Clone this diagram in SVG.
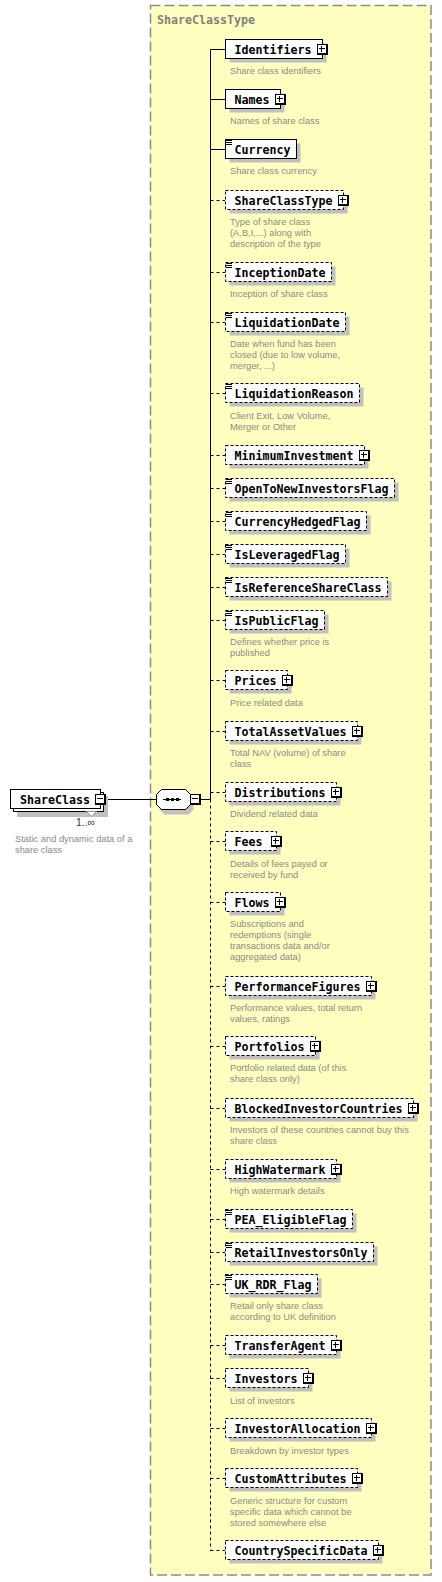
<svg xmlns="http://www.w3.org/2000/svg" xmlns:xlink="http://www.w3.org/1999/xlink" width="442" height="1582" viewBox="0 0 442 1582">
<style>
.bg{fill:#ffffc0;stroke:#8c8c8c;stroke-width:1.5;stroke-dasharray:10,4}
.ttl{font-family:"DejaVu Sans Mono",monospace;font-weight:bold;font-size:11.63px;fill:#808080}
.box{fill:#fff;stroke:#000;stroke-width:1}
.opt{stroke-dasharray:3,2}
.sh{fill:#c0c0c0}
.nm{font-family:"DejaVu Sans Mono",monospace;font-weight:bold;font-size:11.63px;fill:#000}
.ds{font-family:"Liberation Sans",Arial,sans-serif;font-size:9.3px;fill:#8a8a8a}
.ln{stroke:#000;stroke-width:1;fill:none}
.dl{stroke-dasharray:3,3}
.occ{font-family:"Liberation Sans",Arial,sans-serif;font-size:10.4px;fill:#303050}
</style>
<defs>
<g id="plus"><rect x="0" y="0" width="11" height="11" fill="#000"/><rect x="1" y="1" width="8" height="8" fill="#fff"/><path d="M2 4.5H8M4.5 2V8" stroke="#000" stroke-width="1"/></g>
<g id="minus"><rect x="0" y="0" width="11" height="11" fill="#000"/><rect x="1" y="1" width="8" height="8" fill="#fff"/><path d="M2 4.5H8" stroke="#000" stroke-width="1"/></g>
<path id="ic" d="M1 1.5h6M1 3.5h6M1 5.5h6" stroke="#000" stroke-width="1" fill="none"/>
</defs>
<rect class="bg" x="150.5" y="5.5" width="280.5" height="1569.5"/>
<text class="ttl" x="157" y="24">ShareClassType</text>

<g id="connectors">
<path class="ln" d="M106 799.5H156M201 799.5H210.5"/>
<path class="ln" d="M210.5 49.5V799.5"/>
<path class="ln dl" d="M210.5 799.5V1550.5"/>
<path class="ln" d="M210.5 49.5H225M210.5 99.5H225M210.5 149.5H225"/>
<path class="ln dl" d="M210.5 200.5H225M210.5 272.5H225M210.5 322.5H225M210.5 393.5H225M210.5 455.5H225M210.5 488.5H225M210.5 521.5H225M210.5 554.5H225M210.5 587.5H225M210.5 620.5H225M210.5 680.5H225M210.5 731.5H225M210.5 792.5H225M210.5 841.5H225M210.5 902.5H225M210.5 986.5H225M210.5 1046.5H225M210.5 1108.5H225M210.5 1169.5H225M210.5 1219.5H225M210.5 1252.5H225M210.5 1284.5H225M210.5 1345.5H225M210.5 1378.5H225M210.5 1428.5H225M210.5 1478.5H225M210.5 1550.5H225"/>
</g>

<g id="ShareClass">
<rect class="sh" x="17" y="796" width="91" height="21"/>
<rect class="box" x="13.5" y="792.5" width="90" height="19"/>
<rect class="box" x="10.5" y="789.5" width="90" height="19"/>
<polygon points="86.5,811.5 96.5,811.5 91.5,816.5" fill="#fff" stroke="#909090" stroke-width="1"/>
<text class="nm" x="20" y="803.5">ShareClass</text>
<use href="#minus" x="95" y="794"/>
<text class="occ" x="76" y="826">1..∞</text>
<text class="ds" x="15" y="841.5">Static and dynamic data of a</text>
<text class="ds" x="15" y="852.5">share class</text>
</g>

<g id="sequence">
<polygon class="sh" points="159.5,798.5 164.5,793.5 188.5,793.5 193.5,798.5 193.5,809.5 188.5,814.5 164.5,814.5 159.5,809.5"/>
<polygon class="box" points="156.5,794.5 161.5,789.5 185.5,789.5 190.5,794.5 190.5,804.5 185.5,809.5 161.5,809.5 156.5,804.5"/>
<path class="ln" d="M163 799.5H181"/>
<rect x="166" y="798" width="3" height="3" fill="#000"/>
<rect x="171" y="798" width="3" height="3" fill="#000"/>
<rect x="176" y="798" width="3" height="3" fill="#000"/>
<use href="#minus" x="190" y="794"/>
</g>

<g id="Identifiers"><rect class="sh" x="229.5" y="43.5" width="97" height="19"/><rect class="box" x="225.5" y="39.5" width="97" height="19"/><text class="nm" x="234.5" y="53.5">Identifiers</text><use href="#plus" x="317" y="44"/><text class="ds" x="230" y="73.5">Share class identifiers</text></g>
<g id="Names"><rect class="sh" x="229.5" y="93.5" width="55" height="19"/><rect class="box" x="225.5" y="89.5" width="55" height="19"/><text class="nm" x="234.5" y="103.5">Names</text><use href="#plus" x="275" y="94"/><text class="ds" x="230" y="123.5">Names of share class</text></g>
<g id="Currency"><rect class="sh" x="229.5" y="143.5" width="71" height="19"/><rect class="box" x="225.5" y="139.5" width="71" height="19"/><use href="#ic" x="225" y="139"/><text class="nm" x="234.5" y="153.5">Currency</text><text class="ds" x="230" y="173.5">Share class currency</text></g>
<g id="ShareClassType"><rect class="sh" x="229.5" y="194.5" width="118" height="19"/><rect class="box opt" x="225.5" y="190.5" width="118" height="19"/><text class="nm" x="234.5" y="204.5">ShareClassType</text><use href="#plus" x="338" y="195"/><text class="ds" x="230" y="224.5">Type of share class</text><text class="ds" x="230" y="235.5">(A,B,I,...) along with</text><text class="ds" x="230" y="246.5">description of the type</text></g>
<g id="InceptionDate"><rect class="sh" x="229.5" y="266.5" width="106" height="19"/><rect class="box opt" x="225.5" y="262.5" width="106" height="19"/><use href="#ic" x="225" y="262"/><text class="nm" x="234.5" y="276.5">InceptionDate</text><text class="ds" x="230" y="296.5">Inception of share class</text></g>
<g id="LiquidationDate"><rect class="sh" x="229.5" y="316.5" width="120" height="19"/><rect class="box opt" x="225.5" y="312.5" width="120" height="19"/><use href="#ic" x="225" y="312"/><text class="nm" x="234.5" y="326.5">LiquidationDate</text><text class="ds" x="230" y="346.5">Date when fund has been</text><text class="ds" x="230" y="357.5">closed (due to low volume,</text><text class="ds" x="230" y="368.5">merger, ...)</text></g>
<g id="LiquidationReason"><rect class="sh" x="229.5" y="387.5" width="134" height="19"/><rect class="box opt" x="225.5" y="383.5" width="134" height="19"/><use href="#ic" x="225" y="383"/><text class="nm" x="234.5" y="397.5">LiquidationReason</text><text class="ds" x="230" y="418.5">Client Exit, Low Volume,</text><text class="ds" x="230" y="429.5">Merger or Other</text></g>
<g id="MinimumInvestment"><rect class="sh" x="229.5" y="449.5" width="139" height="19"/><rect class="box opt" x="225.5" y="445.5" width="139" height="19"/><text class="nm" x="234.5" y="459.5">MinimumInvestment</text><use href="#plus" x="359" y="450"/></g>
<g id="OpenToNewInvestorsFlag"><rect class="sh" x="229.5" y="482.5" width="169" height="19"/><rect class="box opt" x="225.5" y="478.5" width="169" height="19"/><use href="#ic" x="225" y="478"/><text class="nm" x="234.5" y="492.5">OpenToNewInvestorsFlag</text></g>
<g id="CurrencyHedgedFlag"><rect class="sh" x="229.5" y="515.5" width="141" height="19"/><rect class="box opt" x="225.5" y="511.5" width="141" height="19"/><use href="#ic" x="225" y="511"/><text class="nm" x="234.5" y="525.5">CurrencyHedgedFlag</text></g>
<g id="IsLeveragedFlag"><rect class="sh" x="229.5" y="548.5" width="120" height="19"/><rect class="box opt" x="225.5" y="544.5" width="120" height="19"/><use href="#ic" x="225" y="544"/><text class="nm" x="234.5" y="558.5">IsLeveragedFlag</text></g>
<g id="IsReferenceShareClass"><rect class="sh" x="229.5" y="581.5" width="162" height="19"/><rect class="box opt" x="225.5" y="577.5" width="162" height="19"/><use href="#ic" x="225" y="577"/><text class="nm" x="234.5" y="591.5">IsReferenceShareClass</text></g>
<g id="IsPublicFlag"><rect class="sh" x="229.5" y="614.5" width="99" height="19"/><rect class="box opt" x="225.5" y="610.5" width="99" height="19"/><use href="#ic" x="225" y="610"/><text class="nm" x="234.5" y="624.5">IsPublicFlag</text><text class="ds" x="230" y="644.5">Defines whether price is</text><text class="ds" x="230" y="655.5">published</text></g>
<g id="Prices"><rect class="sh" x="229.5" y="674.5" width="62" height="19"/><rect class="box opt" x="225.5" y="670.5" width="62" height="19"/><text class="nm" x="234.5" y="684.5">Prices</text><use href="#plus" x="282" y="675"/><text class="ds" x="230" y="705.5">Price related data</text></g>
<g id="TotalAssetValues"><rect class="sh" x="229.5" y="725.5" width="132" height="19"/><rect class="box opt" x="225.5" y="721.5" width="132" height="19"/><text class="nm" x="234.5" y="735.5">TotalAssetValues</text><use href="#plus" x="352" y="726"/><text class="ds" x="230" y="755.5">Total NAV (volume) of share</text><text class="ds" x="230" y="766.5">class</text></g>
<g id="Distributions"><rect class="sh" x="229.5" y="786.5" width="111" height="19"/><rect class="box opt" x="225.5" y="782.5" width="111" height="19"/><text class="nm" x="234.5" y="796.5">Distributions</text><use href="#plus" x="331" y="787"/><text class="ds" x="230" y="816.5">Dividend related data</text></g>
<g id="Fees"><rect class="sh" x="229.5" y="835.5" width="51" height="19"/><rect class="box opt" x="225.5" y="831.5" width="51" height="19"/><text class="nm" x="234.5" y="845.5">Fees</text><use href="#plus" x="271" y="836"/><text class="ds" x="230" y="866.5">Details of fees payed or</text><text class="ds" x="230" y="877.5">received by fund</text></g>
<g id="Flows"><rect class="sh" x="229.5" y="896.5" width="55" height="19"/><rect class="box opt" x="225.5" y="892.5" width="55" height="19"/><text class="nm" x="234.5" y="906.5">Flows</text><use href="#plus" x="275" y="897"/><text class="ds" x="230" y="926.5">Subscriptions and</text><text class="ds" x="230" y="937.5">redemptions (single</text><text class="ds" x="230" y="948.5">transactions data and/or</text><text class="ds" x="230" y="959.5">aggregated data)</text></g>
<g id="PerformanceFigures"><rect class="sh" x="229.5" y="980.5" width="146" height="19"/><rect class="box opt" x="225.5" y="976.5" width="146" height="19"/><text class="nm" x="234.5" y="990.5">PerformanceFigures</text><use href="#plus" x="366" y="981"/><text class="ds" x="230" y="1010.5">Performance values, total return</text><text class="ds" x="230" y="1021.5">values, ratings</text></g>
<g id="Portfolios"><rect class="sh" x="229.5" y="1040.5" width="90" height="19"/><rect class="box opt" x="225.5" y="1036.5" width="90" height="19"/><text class="nm" x="234.5" y="1050.5">Portfolios</text><use href="#plus" x="310" y="1041"/><text class="ds" x="230" y="1071">Portfolio related data (of this</text><text class="ds" x="230" y="1082">share class only)</text></g>
<g id="BlockedInvestorCountries"><rect class="sh" x="229.5" y="1102.5" width="188" height="19"/><rect class="box opt" x="225.5" y="1098.5" width="188" height="19"/><text class="nm" x="234.5" y="1112.5">BlockedInvestorCountries</text><use href="#plus" x="408" y="1103"/><text class="ds" x="230" y="1132.5">Investors of these countries cannot buy this</text><text class="ds" x="230" y="1143.5">share class</text></g>
<g id="HighWatermark"><rect class="sh" x="229.5" y="1163.5" width="111" height="19"/><rect class="box opt" x="225.5" y="1159.5" width="111" height="19"/><text class="nm" x="234.5" y="1173.5">HighWatermark</text><use href="#plus" x="331" y="1164"/><text class="ds" x="230" y="1193.5">High watermark details</text></g>
<g id="PEA_EligibleFlag"><rect class="sh" x="229.5" y="1213.5" width="127" height="19"/><rect class="box opt" x="225.5" y="1209.5" width="127" height="19"/><use href="#ic" x="225" y="1209"/><text class="nm" x="234.5" y="1223.5">PEA_EligibleFlag</text></g>
<g id="RetailInvestorsOnly"><rect class="sh" x="229.5" y="1246.5" width="148" height="19"/><rect class="box opt" x="225.5" y="1242.5" width="148" height="19"/><use href="#ic" x="225" y="1242"/><text class="nm" x="234.5" y="1256.5">RetailInvestorsOnly</text></g>
<g id="UK_RDR_Flag"><rect class="sh" x="229.5" y="1278.5" width="92" height="19"/><rect class="box opt" x="225.5" y="1274.5" width="92" height="19"/><use href="#ic" x="225" y="1274"/><text class="nm" x="234.5" y="1288.5">UK_RDR_Flag</text><text class="ds" x="230" y="1309">Retail only share class</text><text class="ds" x="230" y="1320">according to UK definition</text></g>
<g id="TransferAgent"><rect class="sh" x="229.5" y="1339.5" width="111" height="19"/><rect class="box opt" x="225.5" y="1335.5" width="111" height="19"/><text class="nm" x="234.5" y="1349.5">TransferAgent</text><use href="#plus" x="331" y="1340"/></g>
<g id="Investors"><rect class="sh" x="229.5" y="1372.5" width="83" height="19"/><rect class="box opt" x="225.5" y="1368.5" width="83" height="19"/><text class="nm" x="234.5" y="1382.5">Investors</text><use href="#plus" x="303" y="1373"/><text class="ds" x="230" y="1403.5">List of investors</text></g>
<g id="InvestorAllocation"><rect class="sh" x="229.5" y="1422.5" width="146" height="19"/><rect class="box opt" x="225.5" y="1418.5" width="146" height="19"/><text class="nm" x="234.5" y="1432.5">InvestorAllocation</text><use href="#plus" x="366" y="1423"/><text class="ds" x="230" y="1453.5">Breakdown by investor types</text></g>
<g id="CustomAttributes"><rect class="sh" x="229.5" y="1472.5" width="132" height="19"/><rect class="box opt" x="225.5" y="1468.5" width="132" height="19"/><text class="nm" x="234.5" y="1482.5">CustomAttributes</text><use href="#plus" x="352" y="1473"/><text class="ds" x="230" y="1503.5">Generic structure for custom</text><text class="ds" x="230" y="1514.5">specific data which cannot be</text><text class="ds" x="230" y="1525.5">stored somewhere else</text></g>
<g id="CountrySpecificData"><rect class="sh" x="229.5" y="1544.5" width="153" height="19"/><rect class="box opt" x="225.5" y="1540.5" width="153" height="19"/><text class="nm" x="234.5" y="1554.5">CountrySpecificData</text><use href="#plus" x="373" y="1545"/></g>
</svg>
